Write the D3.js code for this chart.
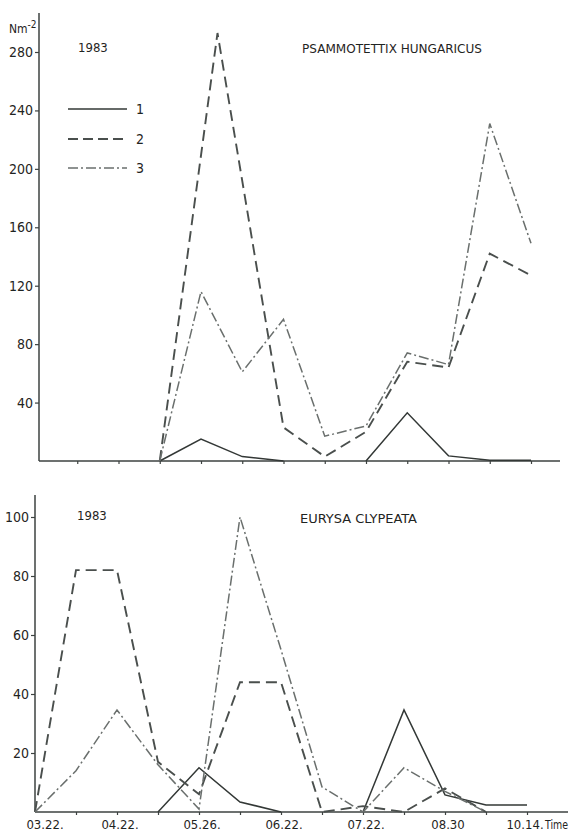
<!DOCTYPE html>
<html><head><meta charset="utf-8">
<script src="https://cdn.jsdelivr.net/npm/d3@7/dist/d3.min.js"></script>
<style>
body{margin:0;background:#fff;}
text{font-family:"Liberation Sans Narrow","DejaVu Sans Condensed",sans-serif;font-stretch:condensed;fill:#1f2422;}
</style></head>
<body><svg id="c" width="571" height="834"></svg>
<script>
// sampling index 0..12 (equally spaced in the plot)
const sampleIdx = d3.range(13);
const xLabels = ["03.22.","","04.22.","","05.26.","","06.22.","","07.22.","","08.30","","10.14."];
const topTicks = [40,80,120,160,200,240,280];
const botTicks = [20,40,60,80,100];
const legendLabels = ["1","2","3"];

// PSAMMOTETTIX HUNGARICUS (top)
const topS1 = [null,null,null,0,15,3,0,null,0,33,3.5,0.5,0.5];
const topS2x = [3,4.4,6,7,8,9,10,11,12];
const topS2 = [0,293,23,3,20,68,64,142,127];
const topS3 = [null,null,null,0,116,61,97,17,24,74,66,231,149];

// EURYSA CLYPEATA (bottom)
const botS1 = [null,null,null,0,15,3.4,0,null,0,34.6,5.8,2.4,2.4];
const botS2 = [0,82,82,17,6,44,44,0,2,0,8,0,null];
const botS3 = [0,14,34.6,16,1,100,55,8.5,0,15,7,0,null];

const svg = d3.select("#c");
const ink = "#3c4240";
const styles = [
  {w:1.5, dash:null, c:"#333836"},
  {w:1.9, dash:"11,6", c:"#4a4f4d"},
  {w:1.5, dash:"10,3,2,3", c:"#6a6f6d"}
];

function panel(o){
  const g = svg.append("g");
  const x = d3.scaleLinear().domain([0,12]).range(o.xr);
  const y = d3.scaleLinear().domain(o.yd).range(o.yr);
  const ya = d3.axisLeft(y).tickValues(o.ticks).tickSize(4).tickPadding(2);
  const gy = g.append("g").attr("transform",`translate(${o.ax},0)`).call(ya);
  gy.select(".domain").remove();
  gy.selectAll("line").attr("stroke",ink).attr("stroke-width",1.2);
  gy.selectAll("text").style("font-size","14px").attr("fill","#1f2422");
  g.append("line").attr("x1",o.ax).attr("x2",o.ax).attr("y1",o.ytop).attr("y2",y(0))
    .attr("stroke",ink).attr("stroke-width",1.5);
  const xa = d3.axisBottom(x).tickValues(sampleIdx.slice(1)).tickSize(3).tickFormat("");
  const gx = g.append("g").attr("transform",`translate(0,${y(0)})`).call(xa);
  gx.select(".domain").remove();
  gx.selectAll("line").attr("stroke",ink).attr("stroke-width",1.2);
  g.append("line").attr("x1",o.ax).attr("x2",o.xend).attr("y1",y(0)).attr("y2",y(0))
    .attr("stroke",ink).attr("stroke-width",1.5);
  o.series.forEach((s,i)=>{
    const st = styles[i];
    const pts = s.vals.map((v,j)=>({x:s.xs?s.xs[j]:j, v}));
    const line = d3.line().defined(d=>d.v!==null).x(d=>x(d.x)).y(d=>y(d.v));
    g.append("path").attr("d",line(pts)).attr("fill","none")
      .attr("stroke",st.c).attr("stroke-width",st.w)
      .attr("stroke-dasharray",st.dash).attr("stroke-linejoin","miter");
  });
  g.append("text").attr("x",o.yearX).attr("y",o.yearY).style("font-size","13px").text("1983");
  g.append("text").attr("x",o.titleX).attr("y",o.titleY).style("font-size","13px")
    .attr("textLength",o.titleW).attr("lengthAdjust","spacingAndGlyphs").text(o.title);
  return {g,x,y};
}

const topPanel = panel({
  xr:[36,531], yd:[0,280], yr:[461,52], ax:39, ytop:13, xend:560, ticks:topTicks,
  series:[{vals:topS1},{vals:topS2,xs:topS2x},{vals:topS3}],
  yearX:78, yearY:52, title:"PSAMMOTETTIX  HUNGARICUS", titleX:302, titleY:53, titleW:180
});
const botPanel = panel({
  xr:[35,527], yd:[0,100], yr:[812,517], ax:35, ytop:495, xend:568, ticks:botTicks,
  series:[{vals:botS1},{vals:botS2},{vals:botS3}],
  yearX:77, yearY:520, title:"EURYSA  CLYPEATA", titleX:300, titleY:523, titleW:117
});

const u = svg.append("text").attr("x",9).attr("y",33).style("font-size","12px");
u.append("tspan").text("Nm");
u.append("tspan").attr("dy",-5).style("font-size","10px").text("-2");

legendLabels.forEach((l,i)=>{
  const yy = [109,139,168][i];
  const st = styles[i];
  svg.append("line").attr("x1",68).attr("x2",127).attr("y1",yy).attr("y2",yy)
    .attr("stroke",st.c).attr("stroke-width",st.w).attr("stroke-dasharray",i===1?"10,5":st.dash);
  svg.append("text").attr("x",136).attr("y",yy+5).style("font-size","14px").text(l);
});

xLabels.forEach((l,i)=>{
  if(!l) return;
  const off = i===0 ? 10 : (i===12 ? -2 : 3);
  svg.append("text").attr("x",botPanel.x(i)+off).attr("y",829).attr("text-anchor","middle")
    .style("font-size","13px").text(l);
});
svg.append("text").attr("x",545).attr("y",829).style("font-size","12px")
  .attr("textLength",23).attr("lengthAdjust","spacingAndGlyphs").text("Time");
</script>
</body></html>
